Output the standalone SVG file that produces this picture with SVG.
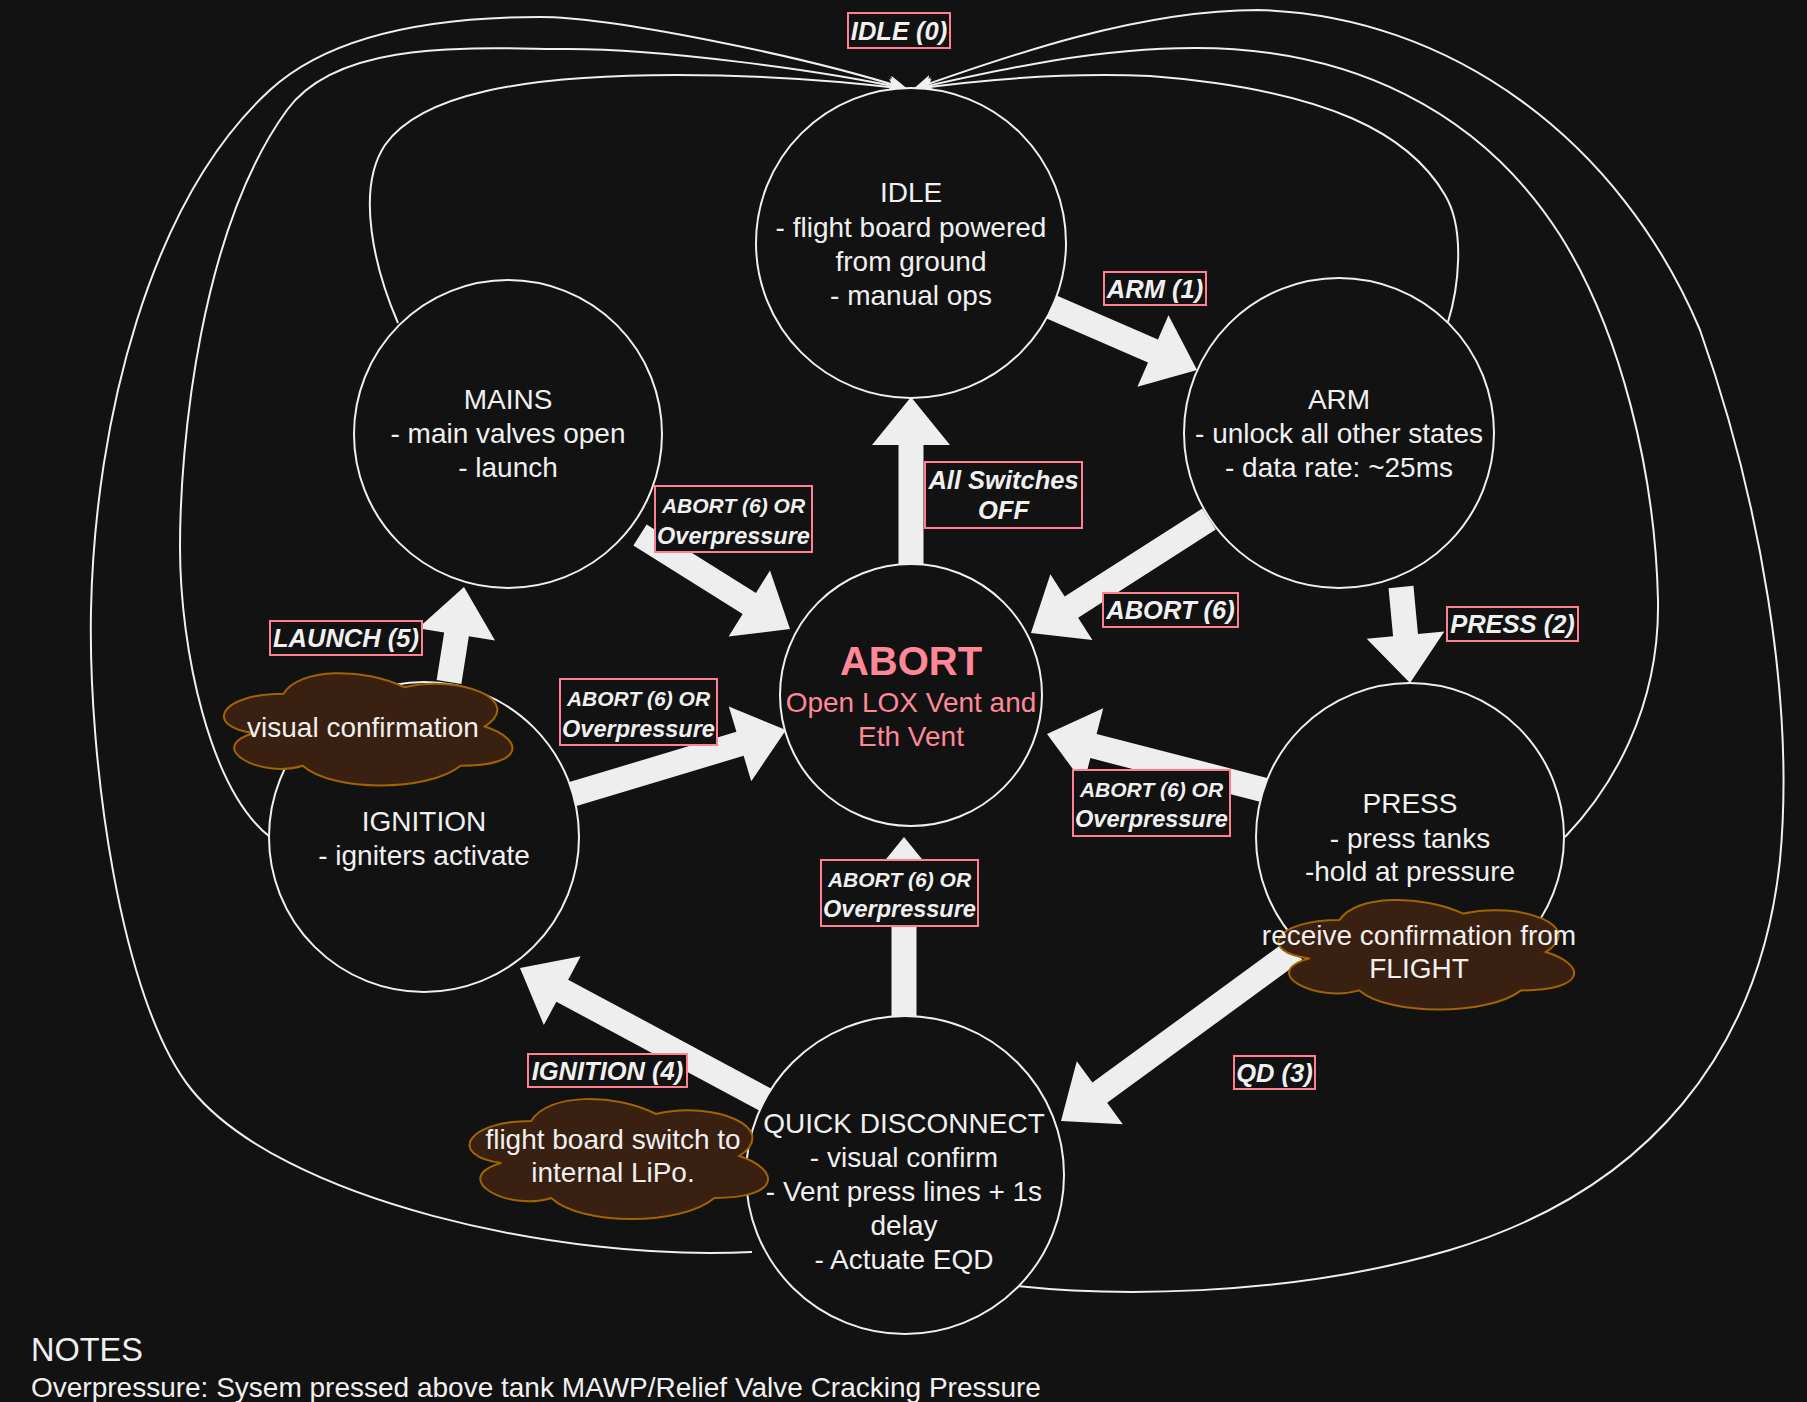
<svg xmlns="http://www.w3.org/2000/svg" width="1807" height="1402" viewBox="0 0 1807 1402">
<style>
.node circle{fill:#121212;stroke:#f0f0f0;stroke-width:2}
.t{font-family:"Liberation Sans",Arial,sans-serif;font-size:28px;fill:#f0f0f0;text-anchor:middle;dominant-baseline:central}
.ab{font-weight:bold;font-size:40px;fill:#ff8898}
.pk{fill:#ff8898}
.lbl rect{fill:#121212;stroke:#ff8090;stroke-width:2}
.lt{font-family:"Liberation Sans",Arial,sans-serif;font-weight:bold;font-style:italic;font-size:25.5px;fill:#f0f0f0;text-anchor:middle;dominant-baseline:central}
.ls{font-size:21px}
.lo{font-size:23.5px}
.cloud path{fill:#3a2010;stroke:#a06400;stroke-width:2}
.flex{fill:#eeeeee}
.curve{fill:none;stroke:#f0f0f0;stroke-width:2;marker-end:url(#arr)}
</style>
<defs>
<marker id="arr" viewBox="0 0 20 16" refX="19" refY="8" markerWidth="20" markerHeight="16" markerUnits="userSpaceOnUse" orient="auto">
<path d="M0,0 L20,8 L0,16 L5,8 Z" fill="#f0f0f0"/>
</marker>
</defs>
<rect width="1807" height="1402" fill="#121212"/>

<g id="connectors">
<!-- curves back to IDLE -->
<path class="curve" d="M 752 1252 C 560 1262, 280 1200, 191 1089 C 120 1000, 88 760, 91 610 C 95 420, 150 200, 270 90 C 342 24, 470 17, 540 17 C 610 17, 800 55, 907 89"/>
<path class="curve" d="M 270 837 C 210 790, 180 650, 180 547 C 180 444, 200 230, 287 110 C 340 37, 480 49, 568 49 C 660 49, 820 70, 907 89"/>
<path class="curve" d="M 398 323 C 375 270, 355 190, 385 145 C 420 95, 520 75, 677 75 C 770 75, 850 82, 907 89"/>
<path class="curve" d="M 1448 322 C 1458 290, 1466 230, 1445 195 C 1410 135, 1330 90, 1150 76 C 1060 72, 980 80, 914 89"/>
<path class="curve" d="M 1565 837 C 1610 790, 1660 710, 1658 600 C 1655 470, 1620 330, 1560 235 C 1480 110, 1350 48, 1195 48 C 1090 48, 990 72, 914 89"/>
<path class="curve" d="M 1017 1286 C 1100 1295, 1280 1300, 1450 1250 C 1650 1190, 1760 1050, 1780 860 C 1795 700, 1760 500, 1700 330 C 1620 140, 1450 15, 1258 10 C 1140 10, 1010 55, 914 89"/>
<!-- block arrows -->
<polygon class="flex" transform="translate(1047,305) rotate(23.43)" points="0,-12.5 115.5,-12.5 115.5,-39 163.5,0 115.5,39 115.5,12.5 0,12.5"/>
<polygon class="flex" transform="translate(911,564) rotate(-90)" points="0,-12.5 119,-12.5 119,-39 167,0 119,39 119,12.5 0,12.5"/>
<polygon class="flex" transform="translate(640,535) rotate(32.07)" points="0,-12.5 129,-12.5 129,-39 177,0 129,39 129,12.5 0,12.5"/>
<polygon class="flex" transform="translate(1209,519) rotate(147.36)" points="0,-12.5 163.4,-12.5 163.4,-39 211.4,0 163.4,39 163.4,12.5 0,12.5"/>
<polygon class="flex" transform="translate(1401,587) rotate(84.64)" points="0,-12.5 48.4,-12.5 48.4,-39 96.4,0 48.4,39 48.4,12.5 0,12.5"/>
<polygon class="flex" transform="translate(1264,790) rotate(194.47)" points="0,-12.5 176.1,-12.5 176.1,-39 224.1,0 176.1,39 176.1,12.5 0,12.5"/>
<polygon class="flex" transform="translate(573,794) rotate(-16.72)" points="0,-12.5 174.4,-12.5 174.4,-39 222.4,0 174.4,39 174.4,12.5 0,12.5"/>
<polygon class="flex" transform="translate(449,682) rotate(-81.03)" points="0,-12.5 48.2,-12.5 48.2,-39 96.2,0 48.2,39 48.2,12.5 0,12.5"/>
<polygon class="flex" transform="translate(766,1100) rotate(208.21)" points="0,-12.5 231.2,-12.5 231.2,-39 279.2,0 231.2,39 231.2,12.5 0,12.5"/>
<polygon class="flex" transform="translate(904,1016) rotate(-90)" points="0,-12.5 131,-12.5 131,-39 179,0 131,39 131,12.5 0,12.5"/>
<polygon class="flex" transform="translate(1295,950) rotate(143.84)" points="0,-12.5 241.8,-12.5 241.8,-39 289.8,0 241.8,39 241.8,12.5 0,12.5"/>
</g>

<g id="node-idle" class="node">
<circle cx="911" cy="243" r="155"/>
<text class="t" x="911" y="192">IDLE</text>
<text class="t" x="911" y="227">- flight board powered</text>
<text class="t" x="911" y="261">from ground</text>
<text class="t" x="911" y="295">- manual ops</text>
</g>
<g id="node-mains" class="node">
<circle cx="508" cy="434" r="154"/>
<text class="t" x="508" y="399">MAINS</text>
<text class="t" x="508" y="433">- main valves open</text>
<text class="t" x="508" y="467">- launch</text>
</g>
<g id="node-arm" class="node">
<circle cx="1339" cy="433" r="155"/>
<text class="t" x="1339" y="399">ARM</text>
<text class="t" x="1339" y="433">- unlock all other states</text>
<text class="t" x="1339" y="467">- data rate: ~25ms</text>
</g>
<g id="node-abort" class="node">
<circle cx="911" cy="695" r="131"/>
<text class="t ab" x="911" y="661">ABORT</text>
<text class="t pk" x="911" y="702">Open LOX Vent and</text>
<text class="t pk" x="911" y="736">Eth Vent</text>
</g>
<g id="node-press" class="node">
<circle cx="1410" cy="837" r="154"/>
<text class="t" x="1410" y="803">PRESS</text>
<text class="t" x="1410" y="838">- press tanks</text>
<text class="t" x="1410" y="871">-hold at pressure</text>
</g>
<g id="node-ignition" class="node">
<circle cx="424" cy="837" r="155"/>
<text class="t" x="424" y="821">IGNITION</text>
<text class="t" x="424" y="855">- igniters activate</text>
</g>
<g id="node-qd" class="node">
<circle cx="905" cy="1175" r="159"/>
<text class="t" x="904" y="1123">QUICK DISCONNECT</text>
<text class="t" x="904" y="1157">- visual confirm</text>
<text class="t" x="904" y="1191">- Vent press lines + 1s</text>
<text class="t" x="904" y="1225">delay</text>
<text class="t" x="904" y="1259">- Actuate EQD</text>
</g>

<g id="cloud-visual" class="cloud">
<path d="M 283.5 693.75 C 219.1 693.75, 203 726.5, 254.5 733.05 C 203 747.46, 261 778.9, 302.8 765.8 C 331.8 792, 428.4 792, 460.6 765.8 C 525 765.8, 525 739.6, 484.75 726.5 C 525 700.3, 460.6 674.1, 404.25 687.2 C 364 667.55, 299.6 667.55, 283.5 693.75 Z"/>
<text class="t" x="363" y="727">visual confirmation</text>
</g>
<g id="cloud-flight" class="cloud">
<path d="M 1339.5 920 C 1273.5 920, 1257 952, 1309.8 958.4 C 1257 972.5, 1316.4 1003.2, 1359.3 990.4 C 1389 1016, 1488 1016, 1521 990.4 C 1587 990.4, 1587 964.8, 1545.75 952 C 1587 926.4, 1521 900.8, 1463.25 913.6 C 1422 894.4, 1356 894.4, 1339.5 920 Z"/>
<text class="t" x="1419" y="935">receive confirmation from</text>
<text class="t" x="1419" y="968">FLIGHT</text>
</g>
<g id="cloud-lipo" class="cloud">
<path d="M 531.25 1121 C 464.65 1121, 448 1156, 501.3 1163 C 448 1178.4, 507.9 1212, 551.2 1198 C 581.2 1226, 681.1 1226, 714.4 1198 C 781 1198, 781 1170, 739.4 1156 C 781 1128, 714.4 1100, 656.1 1114 C 614.5 1093, 547.9 1093, 531.25 1121 Z"/>
<text class="t" x="613" y="1139">flight board switch to</text>
<text class="t" x="613" y="1172">internal LiPo.</text>
</g>

<g id="labels">
<g id="lbl-idle" class="lbl"><rect x="848" y="13" width="102" height="35"/><text class="lt" x="899" y="30.5">IDLE (0)</text></g>
<g id="lbl-arm" class="lbl"><rect x="1104" y="272" width="102" height="33"/><text class="lt" x="1155" y="288.5">ARM (1)</text></g>
<g id="lbl-switches" class="lbl"><rect x="925" y="462" width="157" height="66"/><text class="lt" x="1003.5" y="480">All Switches</text><text class="lt" x="1003.5" y="510">OFF</text></g>
<g id="lbl-mains-abort" class="lbl"><rect x="655" y="486" width="157" height="66"/><text class="lt ls" x="733.5" y="505">ABORT (6) OR</text><text class="lt lo" x="733.5" y="536">Overpressure</text></g>
<g id="lbl-arm-abort" class="lbl"><rect x="1103" y="593" width="135" height="34"/><text class="lt" x="1170.5" y="610">ABORT (6)</text></g>
<g id="lbl-press" class="lbl"><rect x="1447" y="607" width="131" height="34"/><text class="lt" x="1512.5" y="624">PRESS (2)</text></g>
<g id="lbl-launch" class="lbl"><rect x="270" y="621" width="152" height="34"/><text class="lt" x="346" y="638">LAUNCH (5)</text></g>
<g id="lbl-ign-abort" class="lbl"><rect x="560" y="679" width="157" height="66"/><text class="lt ls" x="638.5" y="698">ABORT (6) OR</text><text class="lt lo" x="638.5" y="729">Overpressure</text></g>
<g id="lbl-press-abort" class="lbl"><rect x="1073" y="770" width="157" height="66"/><text class="lt ls" x="1151.5" y="789">ABORT (6) OR</text><text class="lt lo" x="1151.5" y="819">Overpressure</text></g>
<g id="lbl-qd-abort" class="lbl"><rect x="821" y="860" width="157" height="66"/><text class="lt ls" x="899.5" y="879">ABORT (6) OR</text><text class="lt lo" x="899.5" y="909">Overpressure</text></g>
<g id="lbl-ignition" class="lbl"><rect x="528" y="1054" width="159" height="33"/><text class="lt" x="607.5" y="1070.5">IGNITION (4)</text></g>
<g id="lbl-qd" class="lbl"><rect x="1234" y="1056" width="81" height="33"/><text class="lt" x="1274.5" y="1072.5">QD (3)</text></g>
</g>

<g id="notes">
<text class="t" x="31" y="1350" style="text-anchor:start;font-size:32.5px">NOTES</text>
<text class="t" x="31" y="1387" style="text-anchor:start">Overpressure: Sysem pressed above tank MAWP/Relief Valve Cracking Pressure</text>
</g>
</svg>
